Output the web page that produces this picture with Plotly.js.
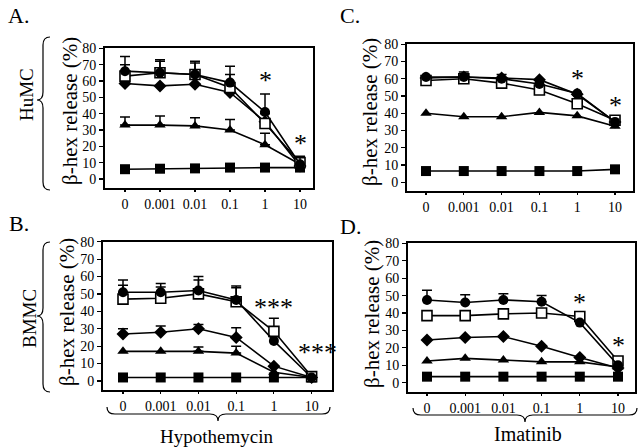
<!DOCTYPE html>
<html>
<head>
<meta charset="utf-8">
<script src="https://cdn.plot.ly/plotly-3.0.1.min.js"></script>
<style>html,body{margin:0;padding:0;background:#fff;}#chart{width:641px;height:448px;}</style>
</head>
<body>
<div id="chart"></div>
<script>
// ---- data ----
var doses = ["0", "0.001", "0.01", "0.1", "1", "10"];
var yTicks = [0, 10, 20, 30, 40, 50, 60, 70, 80];

// Panel A: HuMC, Hypothemycin
var A_circle  = [66, 65, 64, 59, 41, 9];
var A_open    = [63, 65, 64, 56, 34, 10];
var A_diamond = [58.5, 57, 58, 53, 35, 8];
var A_tri     = [33, 33, 32.5, 30, 21, 9];
var A_square  = [6, 6.3, 6.5, 7, 7, 7];
var A_circleErr = [9, 8, 8, 10, 11, 5];
var A_openErr   = [7, 7, 7, 8, 6, 3];
var A_triErr    = [5, 5.5, 5, 6.5, 7, null];
var A_starY     = [null, null, null, null, 60, 22];

// Panel C: HuMC, Imatinib
var C_circle  = [61, 61, 60, 57, 51.5, 35];
var C_open    = [59, 60, 57.5, 53.5, 45.5, 36];
var C_diamond = [60.5, 61, 60.5, 59.5, 51, 35];
var C_tri     = [40, 38, 38, 40.5, 38.5, 32.5];
var C_square  = [6.5, 6.5, 6.5, 6.5, 6.5, 7.5];
var C_circleErr = [null, 3, 2.5, null, null, null];
var C_starY     = [null, null, null, null, 60, 44.5];

// Panel B: BMMC, Hypothemycin
var B_circle  = [51, 51, 52, 46.5, 23, 2];
var B_open    = [47, 47.5, 50, 45.5, 28.5, 2.5];
var B_diamond = [27, 28, 30, 25, 8.5, 2];
var B_tri     = [17, 17, 17, 16, 5, 2];
var B_square  = [2, 2, 2, 2, 2, 2];
var B_circleErr  = [7, 5, 8, 8, null, null];
var B_openErr    = [8, 6.5, 8, 8, 7.5, null];
var B_diamondErr = [3, 3.5, 2.5, 5.5, null, null];
var B_triErr     = [null, null, 2.5, 4, null, null];
var B_starY      = [null, null, null, null, 42, 16.5];
var B_stars      = ["", "", "", "", "***", "***"];

// Panel D: BMMC, Imatinib
var D_circle  = [47.5, 46, 47.5, 46.5, 34.5, 10];
var D_open    = [38.5, 38.5, 39.5, 40, 38, 12.5];
var D_diamond = [24.5, 26, 26.5, 21, 14.5, 8.5];
var D_tri     = [12.5, 14, 13, 12, 12, 9];
var D_square  = [3.5, 3.5, 3.5, 3.5, 3.5, 3.5];
var D_circleErr = [5.5, 4.5, 3.5, 3.5, null, null];
var D_starY     = [null, null, null, null, 46, 21.5];

// ---- helpers ----
var W = 641, H = 448;
function px(x){ return x / W; }
function py(y){ return 1 - y / H; }
var FONT = '"Liberation Serif", "DejaVu Serif", serif';

function err(arr){
  if (!arr) return {visible:false};
  return {type:'data', symmetric:false,
          array:arr.map(function(v){return v==null?NaN:v;}),
          arrayminus:arr.map(function(v){return v==null?NaN:0;}),
          color:'#000', thickness:1.5, width:5, visible:true};
}
function series(n, y, sym, errArr, open){
  var xa = 'x' + (n===1?'':n), ya = 'y' + (n===1?'':n);
  return {
    type:'scatter', mode:'lines+markers', x:[0,1,2,3,4,5], y:y, xaxis:xa, yaxis:ya,
    line:{color:'#000', width:1.6},
    marker:{symbol:sym, size:10,
            color: open ? '#fff' : '#000', line:{color:'#000', width: open?1.6:0}},
    error_y: err(errArr), showlegend:false, hoverinfo:'skip', cliponaxis:false
  };
}
function panel(n, c, o, d, t, s, cE, oE, dE, tE){
  return [
    series(n, s, 'square', null, false),
    series(n, t, 'triangle-up', tE, false),
    series(n, d, 'diamond', dE, false),
    series(n, o, 'square', oE, true),
    series(n, c, 'circle', cE, false)
  ];
}

var data = [].concat(
  panel(1, A_circle, A_open, A_diamond, A_tri, A_square, A_circleErr, A_openErr, null, A_triErr),
  panel(2, C_circle, C_open, C_diamond, C_tri, C_square, C_circleErr, null, null, null),
  panel(3, B_circle, B_open, B_diamond, B_tri, B_square, B_circleErr, B_openErr, B_diamondErr, B_triErr),
  panel(4, D_circle, D_open, D_diamond, D_tri, D_square, D_circleErr, null, null, null)
);

function xax(x0, x1, r){
  return {domain:[px(x0), px(x1)], range:r, tickvals:[0,1,2,3,4,5], ticktext:doses,
    showline:true, mirror:true, linecolor:'#000', linewidth:2, showgrid:false, zeroline:false,
    ticks:'outside', ticklen:2, tickwidth:1.2, tickcolor:'#000',
    tickfont:{family:FONT, size:14, color:'#000'}, fixedrange:true};
}
function yax(y0, y1, r){
  return {domain:[py(y1), py(y0)], range:r, tickvals:yTicks,
    showline:true, mirror:true, linecolor:'#000', linewidth:2, showgrid:false, zeroline:false,
    ticks:'outside', ticklen:4, tickwidth:1.2, tickcolor:'#000', ticklabelstandoff:0,
    tickfont:{family:FONT, size:14, color:'#000'}, fixedrange:true};
}

var layout = {
  width:W, height:H, margin:{l:0, r:0, t:0, b:0},
  paper_bgcolor:'#fff', plot_bgcolor:'#fff',
  font:{family:FONT, color:'#000'},
  xaxis:  Object.assign(xax(105, 313, [-0.571, 5.371]), {anchor:'y'}),
  yaxis:  Object.assign(yax(48.3, 188, [-5.5, 80]), {anchor:'x'}),
  xaxis2: Object.assign(xax(407, 633, [-0.503, 5.476]), {anchor:'y2'}),
  yaxis2: Object.assign(yax(44.3, 191.4, [-5.3, 80]), {anchor:'x2'}),
  xaxis3: Object.assign(xax(103, 332, [-0.53, 5.54]), {anchor:'y3'}),
  yaxis3: Object.assign(yax(241.7, 390, [-5.2, 80]), {anchor:'x3'}),
  xaxis4: Object.assign(xax(408, 635, [-0.497, 5.445]), {anchor:'y4'}),
  yaxis4: Object.assign(yax(243.3, 392, [-5.3, 80]), {anchor:'x4'}),
  annotations:[], shapes:[]
};

function txt(x, y, text, size, angle){
  layout.annotations.push({xref:'paper', yref:'paper', x:px(x), y:py(y), text:text,
    showarrow:false, textangle:angle||0, xanchor:'center', yanchor:'middle',
    font:{family:FONT, size:size, color:'#000'}});
}
// panel letters
txt(18, 15, 'A.', 22); txt(350, 15, 'C.', 22); txt(19, 223, 'B.', 22); txt(350, 226, 'D.', 22);
// y titles
var yt = 'β-hex release (%)';
txt(70, 111, yt, 21, -90); txt(370, 112, yt, 21, -90);
txt(67, 312, yt, 21, -90); txt(372, 314, yt, 21, -90);
// cell types
txt(27, 95, 'HuMC', 19, -90); txt(29, 319, 'BMMC', 19, -90);
// drug labels
txt(217, 436, 'Hypothemycin', 19); txt(528, 434, 'Imatinib', 20);

// significance stars
function stars(n, ys, labels){
  var xa = 'x' + (n===1?'':n), ya = 'y' + (n===1?'':n);
  ys.forEach(function(v, i){
    if (v == null) return;
    layout.annotations.push({xref:xa, yref:ya, x:i, y:v, text:labels?labels[i]:'*',
      showarrow:false, xanchor:'center', yanchor:'middle', xshift:(labels && i===5)?6:0,
      font:{family:FONT, size:26, color:'#000'}});
  });
}
stars(1, A_starY); stars(2, C_starY); stars(3, B_starY, B_stars); stars(4, D_starY);

// braces
function P(x, y){ return px(x).toFixed(5) + ',' + py(y).toFixed(5); }
function vbrace(xr, xm, xl, y1, ym, y2){
  var r = 8;
  var p = 'M' + P(xr, y1) + ' Q' + P(xm, y1) + ' ' + P(xm, y1 + r) +
          ' L' + P(xm, ym - r) + ' Q' + P(xm, ym) + ' ' + P(xl, ym) +
          ' Q' + P(xm, ym) + ' ' + P(xm, ym + r) +
          ' L' + P(xm, y2 - r) + ' Q' + P(xm, y2) + ' ' + P(xr, y2);
  layout.shapes.push({type:'path', xref:'paper', yref:'paper', path:p, line:{color:'#000', width:1.2}});
}
function hbrace(x1, xm, x2, yt, ym, yb){
  var r = 8;
  var p = 'M' + P(x1, yt) + ' Q' + P(x1, ym) + ' ' + P(x1 + r, ym) +
          ' L' + P(xm - r, ym) + ' Q' + P(xm, ym) + ' ' + P(xm, yb) +
          ' Q' + P(xm, ym) + ' ' + P(xm + r, ym) +
          ' L' + P(x2 - r, ym) + ' Q' + P(x2, ym) + ' ' + P(x2, yt);
  layout.shapes.push({type:'path', xref:'paper', yref:'paper', path:p, line:{color:'#000', width:1.2}});
}
vbrace(50, 43, 37, 37, 100, 190);
vbrace(50, 43, 37, 242, 316, 392);
hbrace(107, 218, 330, 407, 414, 421);
hbrace(413, 525, 637, 408, 415, 422);

Plotly.newPlot('chart', data, layout, {staticPlot:true, displayModeBar:false});
</script>
</body>
</html>
